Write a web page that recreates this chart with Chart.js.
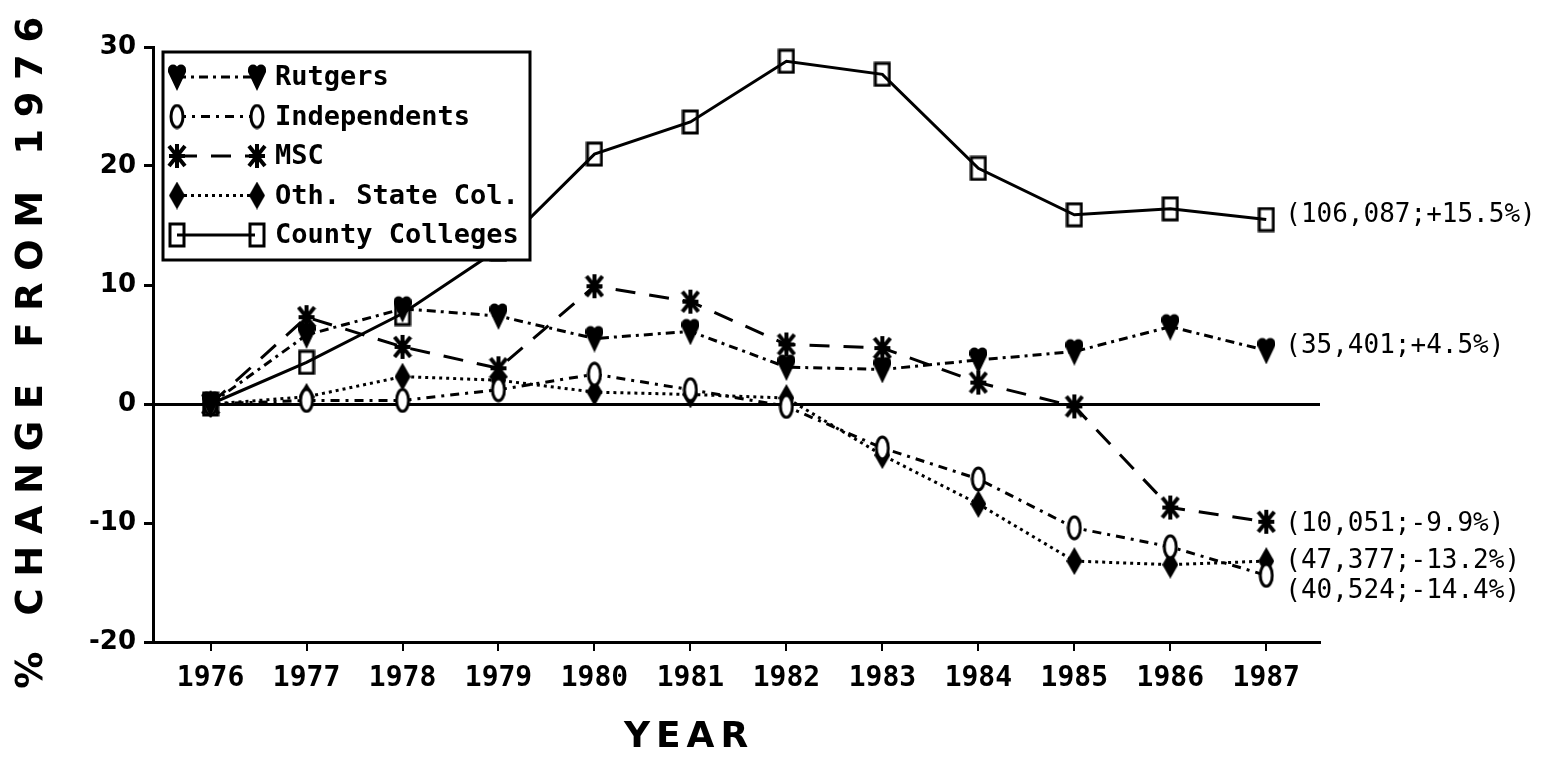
<!DOCTYPE html>
<html>
<head>
<meta charset="utf-8">
<script src="https://cdn.jsdelivr.net/npm/chart.js@4"></script>
<style>
    body { margin: 0; background: #fff; }
    canvas { display: block; }
</style>
</head>
<body>
<canvas id="enrollChart" width="1541" height="777"></canvas>
<script>
// values, % change from 1976
const years = [1976, 1977, 1978, 1979, 1980, 1981, 1982, 1983, 1984, 1985, 1986, 1987];
const seriesNames = ['Rutgers', 'Independents', 'MSC', 'Oth. State Col.', 'County Colleges'];
const rutgers = [0, 5.8, 8.0, 7.4, 5.5, 6.1, 3.1, 2.9, 3.7, 4.4, 6.5, 4.5];
const independents = [0, 0.3, 0.3, 1.2, 2.5, 1.2, -0.2, -3.7, -6.3, -10.4, -12.0, -14.4];
const msc = [0, 7.3, 4.8, 3.0, 9.9, 8.6, 5.0, 4.7, 1.8, -0.2, -8.7, -9.9];
const othState = [0, 0.6, 2.3, 2.0, 1.0, 0.8, 0.5, -4.3, -8.4, -13.2, -13.5, -13.2];
const countyColleges = [0, 3.5, 7.6, 13.0, 21.0, 23.7, 28.8, 27.7, 19.8, 15.9, 16.4, 15.5];
const endLabels = ['(35,401;+4.5%)', '(40,524;-14.4%)', '(10,051;-9.9%)', '(47,377;-13.2%)', '(106,087;+15.5%)'];
const yTicks = [-20, -10, 0, 10, 20, 30];

// little marker images, drawn once
function makeMarker(w, h, draw) {
    const c = document.createElement('canvas');
    c.width = w;
    c.height = h;
    const g = c.getContext('2d');
    g.fillStyle = '#000';
    g.strokeStyle = '#000';
    draw(g);
    return c;
}

const heart = makeMarker(18, 28, function(g) {
    g.beginPath();
    g.arc(5, 6.5, 5, Math.PI, 0);
    g.arc(13, 6.5, 5, Math.PI, 0);
    g.lineTo(18, 9);
    g.lineTo(9, 28);
    g.lineTo(0, 9);
    g.closePath();
    g.fill();
});
const oval = makeMarker(16, 26, function(g) {
    g.lineWidth = 3;
    g.fillStyle = '#fff';
    g.beginPath();
    g.ellipse(8, 13, 6, 11, 0, 0, Math.PI * 2);
    g.fill();
    g.stroke();
});
const star = makeMarker(20, 26, function(g) {
    g.lineWidth = 4;
    g.beginPath();
    g.moveTo(10, 1); g.lineTo(10, 25);
    g.moveTo(2, 3); g.lineTo(18, 23);
    g.moveTo(18, 3); g.lineTo(2, 23);
    g.moveTo(2, 13); g.lineTo(18, 13);
    g.stroke();
});
const diamond = makeMarker(16, 28, function(g) {
    g.beginPath();
    g.moveTo(8, 0);
    g.lineTo(16, 14);
    g.lineTo(8, 28);
    g.lineTo(0, 14);
    g.closePath();
    g.fill();
});
const square = makeMarker(18, 26, function(g) {
    g.lineWidth = 3;
    g.strokeRect(2, 2, 14, 22);
});

function makeSeries(idx, values, marker, dash) {
    return {
        label: seriesNames[idx],
        data: years.map((yr, i) => ({ x: yr, y: values[i] })),
        borderColor: '#000',
        backgroundColor: '#000',
        borderWidth: 3,
        borderDash: dash,
        pointStyle: marker,
        pointRadius: 11,
        tension: 0,
        endLabel: endLabels[idx]
    };
}

// legend box, year/axis titles and end labels
const extrasPlugin = {
    id: 'extras',
    afterDatasetsDraw(chart) {
        const ctx = chart.ctx;
        const sets = chart.data.datasets;
        ctx.save();
        ctx.fillStyle = '#fff';
        ctx.fillRect(163, 52, 367, 208);
        ctx.lineWidth = 3;
        ctx.strokeStyle = '#000';
        ctx.strokeRect(163, 52, 367, 208);
        ctx.font = 'bold 27px "DejaVu Sans Mono"';
        ctx.fillStyle = '#000';
        ctx.textBaseline = 'middle';
        sets.forEach(function(ds, i) {
            const y = 77 + i * 39.5;
            ctx.setLineDash(ds.borderDash || []);
            ctx.lineWidth = 3;
            ctx.beginPath();
            ctx.moveTo(177, y);
            ctx.lineTo(255, y);
            ctx.stroke();
            ctx.setLineDash([]);
            const m = ds.pointStyle;
            ctx.drawImage(m, 177 - m.width / 2, y - m.height / 2);
            ctx.drawImage(m, 257 - m.width / 2, y - m.height / 2);
            ctx.fillText(ds.label, 275, y + 1);
        });
        ctx.restore();
    },
    afterDraw(chart) {
        const ctx = chart.ctx;
        const xs = chart.scales.x;
        const ys = chart.scales.y;
        const nudge = [-4, 16, 2, 0, -4];
        ctx.save();
        ctx.fillStyle = '#000';
        ctx.font = '26px "DejaVu Sans Mono"';
        ctx.textBaseline = 'middle';
        chart.data.datasets.forEach(function(ds, i) {
            const last = ds.data[ds.data.length - 1];
            ctx.fillText(ds.endLabel, xs.getPixelForValue(last.x) + 19, ys.getPixelForValue(last.y) + nudge[i]);
        });

        // axis titles with wide letter spacing
        ctx.font = 'bold 37px "DejaVu Sans"';
        ctx.textAlign = 'center';
        const yTitle = '% CHANGE FROM 1976';
        ctx.letterSpacing = '0px';
        const w0 = ctx.measureText(yTitle).width;
        ctx.letterSpacing = ((672 - w0) / (yTitle.length - 1)) + 'px';
        ctx.save();
        ctx.translate(32, 347);
        ctx.rotate(-Math.PI / 2);
        ctx.fillText(yTitle, 0, 0);
        ctx.restore();
        ctx.font = 'bold 36px "DejaVu Sans"';
        ctx.letterSpacing = '6px';
        ctx.fillText('YEAR', 689, 738);
        ctx.restore();
    }
};

const ctx = document.getElementById('enrollChart').getContext('2d');
new Chart(ctx, {
    type: 'line',
    data: {
        datasets: [
            makeSeries(0, rutgers, heart, [9, 5, 3, 5]),
            makeSeries(1, independents, oval, [9, 6, 3, 6]),
            makeSeries(2, msc, star, [20, 14]),
            makeSeries(3, othState, diamond, [3, 4]),
            makeSeries(4, countyColleges, square, [])
        ]
    },
    options: {
        responsive: false,
        animation: false,
        layout: { padding: { left: 0, right: 221, top: 47, bottom: 75 } },
        plugins: {
            legend: { display: false },
            tooltip: { enabled: false }
        },
        scales: {
            x: {
                type: 'linear',
                min: 1975.4,
                max: 1987.56,
                afterBuildTicks: function(scale) {
                    scale.ticks = years.map(v => ({ value: v }));
                },
                afterFit: function(scale) { scale.height = 60; },
                border: { color: '#000', width: 3 },
                grid: { drawOnChartArea: false, color: '#000', tickLength: 9, lineWidth: 2 },
                ticks: {
                    color: '#000',
                    padding: 11,
                    maxRotation: 0,
                    autoSkip: false,
                    font: { family: '"DejaVu Sans Mono"', size: 28, weight: 'bold' },
                    callback: function(value) { return String(value); }
                }
            },
            y: {
                min: -20,
                max: 30,
                afterBuildTicks: function(scale) {
                    scale.ticks = yTicks.map(v => ({ value: v }));
                },
                afterFit: function(scale) { scale.width = 153; },
                border: { color: '#000', width: 3 },
                grid: {
                    color: function(c) { return c.tick && c.tick.value === 0 ? '#000' : 'rgba(0,0,0,0)'; },
                    tickColor: '#000',
                    lineWidth: 3,
                    tickLength: 9
                },
                ticks: {
                    color: '#000',
                    padding: 8,
                    font: { family: '"DejaVu Sans"', size: 26, weight: 'bold' }
                }
            }
        }
    },
    plugins: [extrasPlugin]
});
</script>
</body>
</html>
